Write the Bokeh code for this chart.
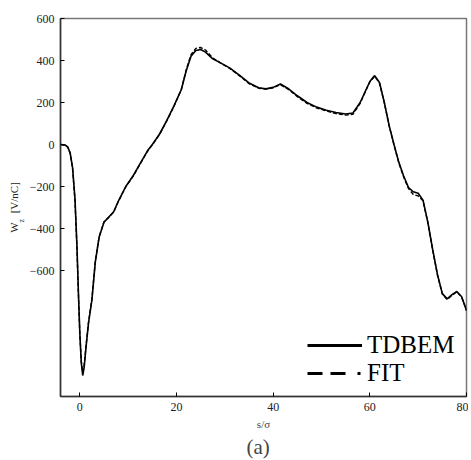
import math
from bokeh.plotting import figure
from bokeh.models import FixedTicker, Label, Legend, LegendItem, Range1d, Title
from bokeh.embed import file_html
from bokeh.resources import INLINE

s = [-4, -3, -2.5, -2, -1.5, -1, -0.6, -0.3, 0, 0.3, 0.6, 0.9, 1.3, 1.8, 2.5,
     3.2, 4, 5, 6, 7, 8, 9.5, 11, 12.5, 14, 15, 16.5, 18, 19.5, 21, 22, 23, 24,
     25, 26, 27.5, 29, 31, 33, 35, 37, 38.5, 40, 41.5, 43, 45, 47, 49, 51, 53,
     55, 56.5, 58, 59, 60, 61, 62, 63, 64, 65, 66, 67, 68, 69, 70, 71, 72, 73,
     74, 75, 76, 77, 78, 79, 80]

tdbem = [0, -3, -12, -40, -110, -260, -480, -700, -900, -1040, -1100, -1060,
         -960, -850, -740, -560, -440, -370, -345, -320, -268, -200, -150, -90,
         -30, 0, 50, 115, 185, 262, 350, 420, 448, 452, 440, 408, 390, 365, 330,
         293, 270, 265, 272, 288, 268, 232, 200, 178, 163, 152, 145, 150, 200,
         250, 300, 328, 295, 200, 90, 0, -85, -150, -205, -225, -232, -265, -370,
         -500, -620, -710, -735, -715, -700, -725, -790]

fit = [0, -3, -12, -42, -115, -270, -490, -710, -905, -1030, -1085, -1050,
       -955, -845, -735, -555, -438, -368, -347, -322, -270, -202, -152, -92,
       -32, -2, 48, 113, 183, 262, 355, 428, 458, 462, 450, 412, 390, 362, 328,
       290, 268, 264, 270, 285, 265, 228, 196, 174, 160, 147, 140, 144, 196,
       248, 298, 325, 292, 198, 88, -2, -88, -155, -210, -238, -245, -268, -372,
       -502, -622, -712, -738, -718, -702, -727, -790]

x_ticks = [0, 20, 40, 60, 80]
y_ticks = [-600, -400, -200, 0, 200, 400, 600]
y_tick_labels = {-600: "\u2212600", -400: "\u2212400", -200: "\u2212200",
                 0: "0", 200: "200", 400: "400", 600: "600"}

SERIF = "Liberation Serif"

p = figure(width=468, height=460, output_backend="svg", toolbar_location=None,
           x_range=Range1d(-4, 80), y_range=Range1d(-1200, 600),
           min_border_left=60, min_border_right=2, min_border_top=18,
           min_border_bottom=64)
p.grid.visible = False
p.outline_line_color = "#777777"
p.outline_line_width = 1.5
p.background_fill_color = "white"
p.border_fill_color = "white"

for ax in (p.xaxis[0], p.yaxis[0]):
    ax.axis_line_color = "#333333"
    ax.axis_line_width = 1.5
    ax.major_tick_in = 4
    ax.major_tick_out = 0
    ax.minor_tick_line_color = None
    ax.major_label_text_font = SERIF
    ax.major_label_text_font_size = "12px"
    ax.major_label_text_color = "#222222"
    ax.major_label_standoff = 6

p.xaxis.ticker = FixedTicker(ticks=x_ticks)
p.yaxis.ticker = FixedTicker(ticks=y_ticks)
p.yaxis.major_label_overrides = y_tick_labels
p.xaxis.axis_label = "s/\u03c3"
p.xaxis.axis_label_text_font = SERIF
p.xaxis.axis_label_text_font_size = "11px"
p.xaxis.axis_label_text_font_style = "normal"
p.xaxis.axis_label_standoff = 4

# y label: "W  [V/nC]" as the axis label, the subscript z added separately
p.yaxis.axis_label = "W\u2002\u2004[V/nC]"
p.yaxis.axis_label_text_font = SERIF
p.yaxis.axis_label_text_font_size = "11px"
p.yaxis.axis_label_text_font_style = "normal"
p.yaxis.axis_label_text_color = "#222222"
p.yaxis.axis_label_standoff = 7

r1 = p.line(s, tdbem, line_color="black", line_width=1.6)
r2 = p.line(s, fit, line_color="black", line_width=1.4, line_dash="4 2")

# legend-only proxy renderers (NaN data) with thicker lines
nan = float("nan")
l1 = p.line(s[:1], [nan], line_color="black", line_width=3)
l2 = p.line(s[:1], [nan], line_color="black", line_width=3,
            line_dash="15 8 15 12 3 20")
common = dict(glyph_width=55, glyph_height=22, label_height=22, padding=0,
              margin=0, label_standoff=5, label_text_color="black",
              label_text_font=SERIF, label_text_font_size="25px",
              border_line_color=None, background_fill_alpha=0)
leg1 = Legend(items=[LegendItem(label="TDBEM", renderers=[l1])],
              location=(247, 37), **common)
leg2 = Legend(items=[LegendItem(label="FIT", renderers=[l2])],
              location=(247, 9), **common)
p.add_layout(leg1, "center")
p.add_layout(leg2, "center")

# subscript z of the y label, placed through the top side panel
p.add_layout(Label(x=-39, y=-204, x_units="screen", y_units="screen",
                   text="z", angle=math.pi / 2, text_font=SERIF,
                   text_font_size="8px", text_color="#222222",
                   text_align="left", text_baseline="alphabetic"), "above")

p.add_layout(Title(text="(a)", align="left", text_font=SERIF,
                   text_font_size="21px", text_font_style="normal",
                   standoff=0, offset=186), "below")

open("out.html", "w").write(file_html(p, INLINE))
